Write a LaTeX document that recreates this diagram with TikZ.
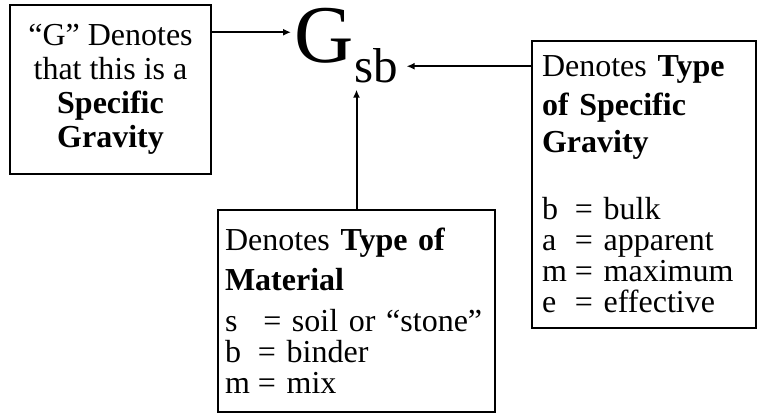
\documentclass[tikz,border=0pt]{standalone}
\usepackage{fontspec}
\setmainfont{Liberation Serif}
\usetikzlibrary{arrows.meta,positioning,calc}
\newcommand{\abbr}[1]{\makebox[1.03em][l]{#1}}
\tikzset{
  txtbox/.style={draw=black,line width=2pt,inner sep=0pt,
                 font=\fontsize{32}{31}\selectfont},
  ptr/.style={-{Latex[length=8pt,width=7pt]},line width=2pt},
  sym/.style={inner sep=0pt,anchor=base west},
}

\begin{document}
\begin{tikzpicture}[x=1pt,y=-1pt]
  \useasboundingbox (0,0) rectangle (758,414);
  % the symbol
  \node[sym,font=\fontsize{82}{82}\selectfont] (gsym) at (294,63) {G};
  \node[sym,font=\fontsize{49}{49}\selectfont] (gsub) at ([xshift=1pt,yshift=-20pt]gsym.base east) {sb};
  % the three notes
  \node[txtbox,minimum width=201pt,minimum height=169pt,align=center,
        font=\fontsize{32}{34}\selectfont] (lbox) at (110.5,89.5)
    {``G'' Denotes\\that this is a\\\textbf{Specific}\\\textbf{Gravity}};
  \node[txtbox,minimum width=224pt,minimum height=287pt,text width=204pt,align=left] (rbox) at (644,184.5)
    {Denotes \textbf{Type}\\[8pt]\textbf{of Specific}\\[6pt]\textbf{Gravity}\\[36pt]%
     \abbr{b}= bulk\\\abbr{a}= apparent\\\abbr{m}= maximum\\\abbr{e}= effective};
  \node[txtbox,minimum width=277pt,minimum height=202pt,text width=263pt,align=left] (bbox) at (356.5,311)
    {Denotes \textbf{Type of}\\[9pt]\textbf{Material}\\[10pt]%
     \abbr{s}\,= soil or ``stone''\\\abbr{b}= binder\\\abbr{m}= mix};
  \draw[ptr,shorten >=3pt] ([yshift=4pt]lbox.east |- gsym.west) -- ([yshift=4pt]gsym.west);
  \draw[ptr,shorten >=8pt] (rbox.west |- gsub.east) -- (gsub.east);
  \draw[ptr,shorten >=6pt] (bbox.north) -- (bbox.north |- gsub.south);
\end{tikzpicture}
\end{document}
